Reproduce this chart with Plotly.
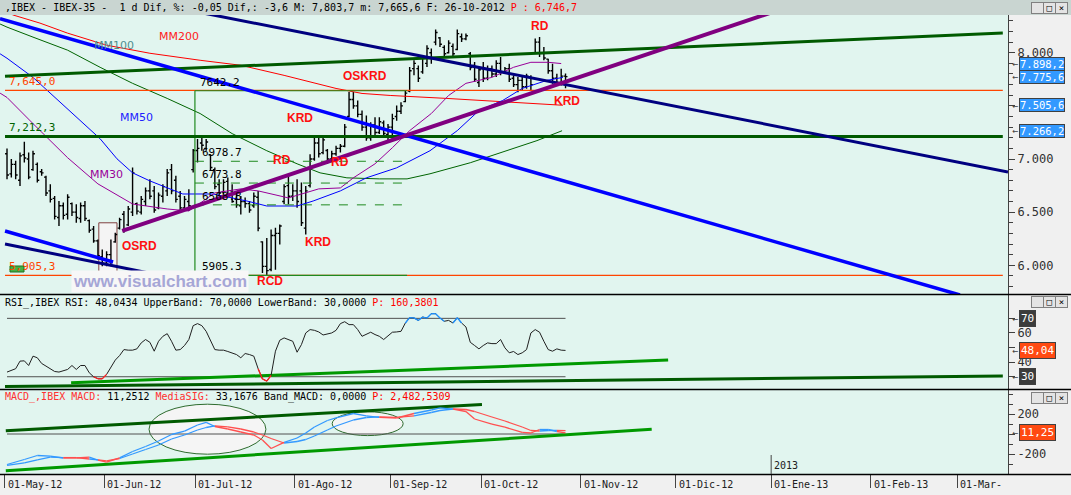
import plotly.graph_objects as go

# ---------------- data ----------------
bar_high = [7100, 7000, 6984, 7062, 7163, 7062, 7078, 6968, 6905, 6842,
            6763, 6653, 6605, 6590, 6668, 6590, 6574, 6590, 6605, 6432,
            6369, 6243, 6149, 6133, 6243, 6306, 6448, 6511, 6558, 6920,
            6590, 6653, 6731, 6810, 6747, 6684, 6763, 6905, 6952, 6842,
            6700, 6653, 6716, 7094, 7188, 7204, 7188, 7046, 6920, 6810,
            6810, 6826, 6763, 6684, 6652, 6637, 6605, 6684, 6700, 6227,
            6258, 6337, 6353, 6385, 6763, 6842, 6763, 6810, 6779, 6747,
            7046, 7204, 7220, 7220, 7094, 7078, 7125, 7141, 7330, 7630,
            7630, 7551, 7456, 7409, 7346, 7393, 7393, 7362, 7330, 7425,
            7503, 7535, 7645, 7866, 7929, 7881, 7976, 8070, 8039, 8219,
            8149, 8070, 8118, 8086, 8219, 8181, 8181, 8007, 7913, 7866,
            7913, 7881, 7881, 7929, 7960, 7866, 7897, 7787, 7771, 7787,
            7803, 7787, 8134, 8149, 8055, 7944, 7897, 7803, 7850, 7803.7]
bar_low = [6810, 6826, 6810, 6747, 6968, 6810, 6889, 6779, 6842, 6653,
           6590, 6432, 6369, 6432, 6432, 6464, 6401, 6401, 6416, 6306,
           6212, 6054, 5991, 5991, 5991, 6212, 6338, 6306, 6369, 6464,
           6479, 6479, 6558, 6621, 6495, 6527, 6590, 6653, 6668, 6590,
           6495, 6511, 6511, 6873, 6968, 7078, 7078, 6889, 6716, 6652,
           6668, 6637, 6589, 6542, 6479, 6542, 6495, 6542, 6321, 5928,
           5905, 5943, 5959, 6195, 6574, 6574, 6605, 6542, 6369, 6290,
           6731, 6983, 7015, 7046, 6952, 6983, 7031, 7062, 7110, 7393,
           7472, 7393, 7267, 7173, 7173, 7204, 7236, 7204, 7173, 7173,
           7361, 7424, 7535, 7629, 7787, 7724, 7803, 7866, 7897, 8070,
           8055, 7960, 7992, 7960, 8023, 8102, 8118, 7834, 7724, 7677,
           7724, 7740, 7771, 7771, 7787, 7803, 7724, 7677, 7629, 7645,
           7661, 7645, 7992, 7960, 7929, 7803, 7708, 7692, 7692, 7665.6]
bar_open = [7050, 6860, 6950, 6800, 7040, 7000, 6900, 6950, 6880, 6830,
            6700, 6630, 6450, 6560, 6480, 6580, 6500, 6440, 6560, 6420,
            6340, 6230, 6080, 6020, 6100, 6220, 6350, 6480, 6380, 6500,
            6580, 6500, 6600, 6700, 6700, 6540, 6650, 6700, 6900, 6800,
            6650, 6540, 6600, 6900, 7080, 7150, 7100, 7040, 6900, 6760,
            6690, 6790, 6700, 6620, 6560, 6600, 6580, 6560, 6640, 6220,
            5990, 5960, 6280, 6300, 6600, 6750, 6650, 6700, 6700, 6350,
            6750, 7000, 7150, 7060, 7080, 7000, 7050, 7100, 7120, 7400,
            7560, 7500, 7420, 7300, 7200, 7320, 7250, 7340, 7230, 7300,
            7400, 7450, 7540, 7640, 7850, 7850, 7820, 7900, 8000, 8100,
            8140, 8050, 8000, 8060, 8030, 8150, 8130, 7990, 7880, 7720,
            7850, 7760, 7850, 7800, 7900, 7820, 7850, 7760, 7700, 7740,
            7680, 7770, 8000, 8100, 8000, 7940, 7830, 7760, 7720, 7780]
bar_close = [6850, 6950, 6850, 7030, 7010, 6830, 7050, 6800, 6870, 6680,
             6620, 6460, 6560, 6470, 6640, 6500, 6450, 6560, 6440, 6330,
             6230, 6090, 6020, 6100, 6040, 6290, 6430, 6330, 6530, 6870,
             6510, 6620, 6700, 6650, 6520, 6660, 6740, 6870, 6700, 6620,
             6540, 6620, 6560, 7080, 7100, 7130, 7160, 6920, 6740, 6680,
             6780, 6660, 6600, 6570, 6600, 6580, 6520, 6650, 6350, 5990,
             5950, 6280, 6300, 6370, 6740, 6650, 6700, 6600, 6400, 6700,
             7000, 7150, 7050, 7180, 7000, 7050, 7100, 7120, 7300, 7560,
             7500, 7420, 7300, 7200, 7320, 7250, 7350, 7240, 7300, 7380,
             7450, 7500, 7620, 7830, 7900, 7760, 7950, 8040, 7950, 8190,
             8080, 7990, 8090, 7990, 8180, 8130, 8160, 7860, 7750, 7840,
             7760, 7850, 7800, 7900, 7820, 7850, 7750, 7700, 7740, 7680,
             7780, 7700, 8100, 8000, 7950, 7830, 7760, 7720, 7780, 7775.6]

# moving averages read at sample bars (bar index, value)
mm30_idx = [-1.6, 0, 6, 14, 21, 29, 37, 42, 48, 54, 58, 65, 72, 77, 80, 85, 89, 93, 98, 102, 106, 112, 117, 121, 125, 128]
mm30_val = [7620, 7579, 7333, 7012, 6766, 6577, 6530, 6511, 6681, 6719, 6700, 6634, 6719, 6728, 6823, 6955, 7106, 7267, 7428, 7598, 7712, 7768, 7863, 7910, 7910, 7898.2]
mm50_idx = [-1.6, 0, 6, 11, 18, 21.5, 25.4, 29, 33, 37, 40.6, 47.6, 55.4, 60, 67, 70.7, 77, 83, 90, 97.7, 104, 109, 114.5, 119, 124.7, 128.4]
mm50_val = [7990, 7948, 7768, 7579, 7314, 7191, 7002, 6870, 6794, 6728, 6671, 6671, 6605, 6558, 6558, 6605, 6700, 6823, 6917, 7078, 7267, 7456, 7551, 7664, 7740, 7768]
mm100_idx = [-1.6, 0, 6, 14, 21.5, 29, 37, 44.6, 52, 60, 67, 72.3, 78.5, 86, 92.4, 97.7, 107, 117, 122.4, 128.2]
mm100_val = [8270, 8241, 8147, 8024, 7863, 7712, 7570, 7428, 7239, 7078, 6955, 6870, 6823, 6813, 6813, 6861, 6965, 7097, 7173, 7266.2]
mm200_idx = [-1.6, 1.4, 7.6, 14, 23, 33, 44.6, 54, 64, 76, 82, 88.5, 101.6, 109, 121, 128.4]
mm200_val = [8420, 8355, 8279, 8184, 8071, 7995, 7929, 7882, 7787, 7664, 7617, 7598, 7570, 7551, 7522, 7505.6]

rsi_val = [33.2, 34.1, 35.5, 40.7, 40.9, 37.7, 44.1, 43.0, 39.1, 37.3,
           35.5, 33.6, 33.2, 34.1, 35.0, 37.7, 35.0, 37.7, 37.7, 32.7,
           30.0, 28.6, 28.6, 31.6, 36.8, 41.4, 44.5, 48.6, 48.2, 48.2,
           49.1, 53.2, 55.5, 53.6, 47.5, 54.3, 57.7, 59.5, 54.3, 48.2,
           48.6, 51.4, 55.5, 65.0, 66.4, 65.0, 61.1, 55.0, 48.6, 48.2,
           48.2, 47.3, 46.4, 45.2, 43.0, 45.9, 45.2, 44.1, 35.5, 28.5,
           27.0, 31.0, 47.5, 55.0, 56.6, 55.5, 54.3, 46.8, 52.0, 60.0,
           62.3, 61.8, 60.7, 58.6, 59.1, 60.0, 61.8, 66.4, 67.7, 65.7,
           65.7, 62.3, 57.7, 58.9, 60.5, 58.9, 57.7, 55.5, 57.7, 60.5,
           60.7, 61.1, 66.8, 70.5, 70.3, 68.6, 70.9, 70.2, 73.2, 73.2,
           70.2, 68.0, 68.6, 66.8, 70.4, 66.8, 64.1, 53.6, 51.4, 49.1,
           51.4, 53.2, 52.7, 52.7, 55.5, 49.8, 46.4, 47.3, 45.2, 46.4,
           48.6, 60.0, 62.3, 60.5, 54.3, 48.6, 47.5, 49.1, 48.2, 48.04]

macd_idx = [0, 4, 7, 10, 13, 16, 19, 21, 23, 26, 29, 32, 35, 38, 41, 44, 46, 48, 51, 54,
            57, 59, 61, 64, 67, 69, 71, 74, 76, 80, 83, 86, 90, 94, 98, 100, 103, 106, 108, 112,
            115, 119, 121, 123, 125, 127, 129]
macd_val = [-305, -255, -215, -222, -240, -240, -232, -262, -281, -238, -175, -125, -70, -5, 28, 90, 116, 75, 50, 20,
            -10, -60, -145, -83, -40, 10, 70, 135, 162, 205, 182, 166, 160, 205, 240, 262, 248, 225, 150, 98,
            68, 17, 10, 45, 45, 25, 11.25]
macd_sig = [-314, -289, -258, -232, -236, -236, -250, -258, -268, -245, -200, -155, -110, -50, -10, 40, 65, 82, 72, 50,
            20, -10, -45, -90, -75, -55, -20, 40, 80, 140, 165, 172, 166, 182, 215, 235, 250, 245, 225, 170,
            130, 70, 35, 30, 35, 36, 33.17]

month_ticks = [-0.5, 22.5, 43.5, 66.5, 88.5, 109.5, 132.5, 154.5, 176.5, 199.5, 219.5]
month_labels = ["01-May-12", "01-Jun-12", "01-Jul-12", "01-Ago-12", "01-Sep-12", "01-Oct-12",
                "01-Nov-12", "01-Dic-12", "01-Ene-13", "01-Feb-13", "01-Mar-"]

# axis ticks (labels hidden where a value box covers them in the reference)
price_ticks = [6000, 6500, 7000, 7500, 8000]
price_tick_text = ["6.000", "6.500", "7.000", "", "8.000"]
rsi_ticks = [30, 40, 50, 60, 70]
rsi_tick_text = ["", "40", "", "60", ""]
macd_ticks = [-400, -200, 0, 200]
macd_tick_text = ["", "-200", "", "200"]

# horizontal levels
level_7645 = 7645.0
level_7212 = 7212.3
level_5905 = 5905.3
fib_high = 7642.2
fib_low = 5905.3
fib_levels = [6978.7, 6773.8, 6568.8]
fib_x = [43.4, 92.4]

# drawn trend lines (bar index, value)
tl_blue_upper = ([-1.62, 220.1], [8321, 5721])
tl_navy_upper = ([40, 231.2], [8416, 6878])
tl_blue_lower = ([-0.46, 24.5], [6323, 6031])
tl_navy_lower = ([-0.46, 52.2], [6201, 5768])
tl_green_rising = ([-0.46, 230.0], [7779, 8185])
tl_purple = ([26.6, 180], [6323, 8426])
rsi_tl_light = ([14.8, 152.7], [25.8, 41.4])
rsi_tl_dark = ([-0.46, 230], [23.3, 30.5])
macd_tl_dark = ([-0.28, 109.7], [33, 295])
macd_tl_light = ([-0.28, 148.9], [-367, 47])

# ---------------- figure ----------------
MONO = "DejaVu Sans Mono"
SANS = "Liberation Sans"
W, H = 1071, 495
ML, MR, MT, MB = 0, 63, 15, 21
PW, PH = W - ML - MR, H - MT - MB


def py(p):  # pixel y -> paper y
    return (H - MB - p) / PH


def px(p):  # pixel x -> paper x
    return (p - ML) / PW


fig = go.Figure()
xb = list(range(len(bar_close)))


def line(xs, ys, color, width, yaxis="y", dash=None):
    fig.add_trace(go.Scatter(x=xs, y=ys, mode="lines", xaxis="x", yaxis=yaxis,
                             line=dict(color=color, width=width, dash=dash),
                             showlegend=False, hoverinfo="skip"))


# main panel
fig.add_trace(go.Ohlc(x=xb, open=bar_open, high=bar_high, low=bar_low, close=bar_close,
                      increasing=dict(line=dict(color="black", width=1.4)),
                      decreasing=dict(line=dict(color="black", width=1.4)),
                      tickwidth=0.45, xaxis="x", yaxis="y", showlegend=False, hoverinfo="skip"))

line(mm100_idx, mm100_val, "#006400", 1)
line(mm200_idx, mm200_val, "#ff0000", 1)
line(mm50_idx, mm50_val, "#0000ff", 1)
line(mm30_idx, mm30_val, "#990099", 1)

xr = [-1.62, 231.2]
line([-0.46, 230], [level_7645, level_7645], "#ff4500", 1.2)
line([-0.46, 230], [level_5905, level_5905], "#ff4500", 1.2)
line([fib_x[0], fib_x[0]], [fib_low, fib_high], "#1f8a1f", 1.2)
line(fib_x, [fib_high, fib_high], "#1f8a1f", 1.2)
line(fib_x, [fib_low, fib_low], "#1f8a1f", 1.2)
for lv in fib_levels:
    line(fib_x, [lv, lv], "#1f8a1f", 1, dash="dash")

line([-0.46, 230], [level_7212, level_7212], "#005a00", 3)
line(*tl_green_rising, "#005a00", 3)
line(*tl_blue_upper, "#0000ff", 3.5)
line(*tl_blue_lower, "#0000ff", 3.5)
line(*tl_navy_upper, "#000080", 3)
line(*tl_navy_lower, "#000080", 3)
line(*tl_purple, "#800080", 4)

# RSI panel
line([0, 129], [70, 70], "#505050", 1, "y2")
line([0, 129], [30, 30], "#505050", 1, "y2")
line(*rsi_tl_dark, "#005a00", 3, "y2")
line(*rsi_tl_light, "#009900", 3, "y2")
line(xb, rsi_val, "#202020", 1, "y2")


def segments(xs, ys, cond):
    sx, sy = [], []
    for i in range(len(xs) - 1):
        if cond(i):
            sx += [xs[i], xs[i + 1], None]
            sy += [ys[i], ys[i + 1], None]
    return sx, sy


bx, byv = segments(xb, rsi_val, lambda i: rsi_val[i] > 70 or rsi_val[i + 1] > 70)
line(bx, byv, "#1e90ff", 1.3, "y2")
rx, ryv = segments(xb, rsi_val, lambda i: rsi_val[i] < 30 or rsi_val[i + 1] < 30)
line(rx, ryv, "#ff2020", 1.3, "y2")

# MACD panel
line([0, 129], [0, 0], "#505050", 1, "y3")
line(*macd_tl_dark, "#005a00", 3, "y3")
line(*macd_tl_light, "#009900", 3, "y3")
up = lambda i: macd_val[i] >= macd_sig[i]
dn = lambda i: macd_val[i] < macd_sig[i]
for series in (macd_sig, macd_val):
    sx, sy = segments(macd_idx, series, up)
    line(sx, sy, "#3399ff", 1.3, "y3")
    sx, sy = segments(macd_idx, series, dn)
    line(sx, sy, "#ff5050", 1.3, "y3")

# ---------------- shapes ----------------
shapes = []
# OSRD box
shapes.append(dict(type="rect", xref="x", yref="y", x0=21.2, x1=25.4, y0=5905, y1=6400,
                   fillcolor="#f4f4f4", line=dict(color="#804040", width=1), layer="below"))
# MACD ellipses
shapes.append(dict(type="circle", xref="x", yref="y3", x0=32.8, x1=59.8, y0=-202, y1=298,
                   fillcolor="#f5f5f5", line=dict(color="#2e6b2e", width=1), layer="below"))
shapes.append(dict(type="circle", xref="x", yref="y3", x0=75.1, x1=91.5, y0=-16, y1=222,
                   fillcolor="#f5f5f5", line=dict(color="#2e6b2e", width=1), layer="below"))
# title bar
shapes.append(dict(type="rect", xref="paper", yref="paper", x0=-0.01, x1=1.07, y0=1.0, y1=1.05,
                   fillcolor="#c9d5d1", line=dict(width=0), layer="above"))
# panel separators
for yy in (294.5, 389.5, 474.5):
    shapes.append(dict(type="line", xref="paper", yref="paper", x0=0, x1=px(W), y0=py(yy), y1=py(yy),
                       line=dict(color="black", width=1.5), layer="above"))
# 2013 tick
shapes.append(dict(type="line", xref="x", yref="paper", x0=176.5, x1=176.5, y0=0, y1=py(455),
                   line=dict(color="#444444", width=1)))
# small green marker over left label
shapes.append(dict(type="rect", xref="paper", yref="paper", x0=px(10), x1=px(24), y0=py(272), y1=py(266),
                   fillcolor="#44b044", line=dict(color="#207020", width=1), layer="above"))

# ---------------- annotations ----------------
ann = []


def text(t, x, y, color="black", size=11, family=MONO, xref="x", yref="y", xanchor="center",
         yanchor="middle", bold=False, **kw):
    if bold:
        t = "<b>" + t + "</b>"
    ann.append(dict(text=t, x=x, y=y, xref=xref, yref=yref, xanchor=xanchor, yanchor=yanchor,
                    showarrow=False, font=dict(color=color, size=size, family=family), **kw))


# title and headers
text(",IBEX - IBEX-35 -  1 d Dif, %: -0,05 Dif,: -3,6 M: 7,803,7 m: 7,665,6 F: 26-10-2012 "
     "<span style='color:#ff0000'>P : 6,746,7</span>",
     px(3), py(7.5), size=10, xref="paper", yref="paper", xanchor="left")
text("RSI_,IBEX RSI: 48,0434 UpperBand: 70,0000 LowerBand: 30,0000 "
     "<span style='color:#ff0000'>P: 160,3801</span>",
     px(3), py(303), size=10, xref="paper", yref="paper", xanchor="left")
text("<span style='color:#ff3030'>MACD_,IBEX MACD:</span> 11,2512 "
     "<span style='color:#ff3030'>MediaSIG:</span> 33,1676 Band_MACD: 0,0000 "
     "<span style='color:#ff0000'>P: 2,482,5309</span>",
     px(3), py(397), size=10, xref="paper", yref="paper", xanchor="left")

# signal labels
for t, xx, yy in [("OSKRD", 82.7, 7781), ("KRD", 67.7, 7386), ("RD", 63.5, 6991), ("RD", 76.9, 6972),
                  ("KRD", 71.8, 6219), ("RCD", 60.7, 5852), ("OSRD", 30.5, 6181), ("RD", 123.1, 8251),
                  ("KRD", 129.3, 7546)]:
    text(t, xx, yy, color="#ff1010", size=12, family=SANS, bold=True)
for t, xx, yy, c in [("MM100", 24.7, 8072, "#4f8f8f"), ("MM200", 39.7, 8157, "#ff2020"),
                     ("MM50", 30.0, 7395, "#2020ff"), ("MM30", 22.9, 6850, "#990099")]:
    text(t, xx, yy, color=c, size=11, family="DejaVu Sans")

# level labels
for t, xx, lv, c in [("7,645,0", 0.0, level_7645, "#ff4500"), ("7642.2", 44.2, fib_high, "black"),
                     ("7,212,3", 0.0, level_7212, "#006400"), ("6978.7", 44.5, fib_levels[0], "black"),
                     ("6773.8", 44.5, fib_levels[1], "black"), ("6568.8", 44.5, fib_levels[2], "black"),
                     ("5905.3", 44.5, fib_low, "black"), ("5,905,3", 0.0, level_5905, "#ff4500")]:
    text(t, xx, lv, color=c, size=11, xanchor="left", yanchor="bottom")

# watermark
text("www.visualchart.com", 35.3, 5848, color="#a6a6d6", size=17, family=SANS, bold=True,
     bgcolor="#f7f7f7")

# right-axis value boxes
for val, t in [(7898.2, "7.898,2"), (7775.6, "7.775,6"), (7505.6, "7.505,6"), (7266.2, "7.266,2")]:
    text("←", px(1010), val, color="#404040", size=10, xref="paper", yref="y", xanchor="left")
    text(t, px(1019), val, color="white", size=10.5, xref="paper", yref="y", xanchor="left",
         bgcolor="#3399ff", bordercolor="#404040", borderwidth=1, borderpad=0)
for val, t, bg in [(70, "70", "#3c3c3c"), (48.04, "48,04", "#ff4a12"), (30, "30", "#3c3c3c")]:
    text("←", px(1010), val, color="#404040", size=10, xref="paper", yref="y2", xanchor="left")
    text(t, px(1019), val, color="white", size=11, xref="paper", yref="y2", xanchor="left",
         bgcolor=bg, bordercolor="#404040", borderwidth=1, borderpad=1)
text("←", px(1010), 11.25, color="#404040", size=10, xref="paper", yref="y3", xanchor="left")
text("11,25", px(1019), 11.25, color="white", size=11, xref="paper", yref="y3", xanchor="left",
     bgcolor="#ff4a12", bordercolor="#404040", borderwidth=1, borderpad=1)

# window buttons
for yb in (8, 302.5, 397.5):
    for xb_, g in ((1037, "_"), (1049, "□"), (1061, "×")):
        text(g, px(xb_), py(yb), color="black", size=9, xref="paper", yref="paper",
             bgcolor="#e4e4e4", bordercolor="#808080", borderwidth=1, width=9, height=8)

# date labels
for tv, lab in zip(month_ticks, month_labels):
    text(lab, tv, py(484.5), color="#202020", size=10, yref="paper", xanchor="left", xshift=1)
text("2013", 176.5, py(465), color="#202020", size=10, yref="paper", xanchor="left", xshift=1)

fig.update_layout(
    width=W, height=H, margin=dict(l=ML, r=MR, t=MT, b=MB),
    paper_bgcolor="#f0f0f0", plot_bgcolor="#e1f5ef",
    separators=",.", showlegend=False,
    font=dict(family=MONO, size=11, color="#303030"),
    shapes=shapes, annotations=ann,
    xaxis=dict(domain=[0, 1], range=xr, anchor="y3", showgrid=False, zeroline=False,
               showline=True, linecolor="black", ticks="outside", ticklen=13, tickcolor="#444444",
               tickvals=month_ticks, showticklabels=False, rangeslider=dict(visible=False),
               fixedrange=True),
    yaxis=dict(domain=[py(294), 1], range=[5730, 8355], side="right", anchor="x",
               showgrid=False, zeroline=False, showline=True, linecolor="#404040",
               ticks="outside", ticklen=6, tickcolor="#404040",
               tickvals=price_ticks, ticktext=price_tick_text,
               minor=dict(dtick=100, tick0=0, ticks="outside", ticklen=4, tickcolor="#404040"),
               tickfont=dict(family=MONO, size=12, color="#303030")),
    yaxis2=dict(domain=[py(389), py(295)], range=[21.6, 86], side="right", anchor="x",
                showgrid=False, zeroline=False, showline=True, linecolor="#404040",
                ticks="outside", ticklen=6, tickcolor="#404040",
                tickvals=rsi_ticks, ticktext=rsi_tick_text,
                tickfont=dict(family=MONO, size=12, color="#303030")),
    yaxis3=dict(domain=[0, py(390)], range=[-400, 440], side="right", anchor="x",
                showgrid=False, zeroline=False, showline=True, linecolor="#404040",
                ticks="outside", ticklen=6, tickcolor="#404040",
                tickvals=macd_ticks, ticktext=macd_tick_text,
                minor=dict(dtick=100, tick0=0, ticks="outside", ticklen=4, tickcolor="#404040"),
                tickfont=dict(family=MONO, size=12, color="#303030")),
)

fig.write_html("out.html", config={"displayModeBar": False},
               post_script="document.body.style.margin='0';document.body.style.padding='0';"
                           "document.body.style.overflow='hidden';")
